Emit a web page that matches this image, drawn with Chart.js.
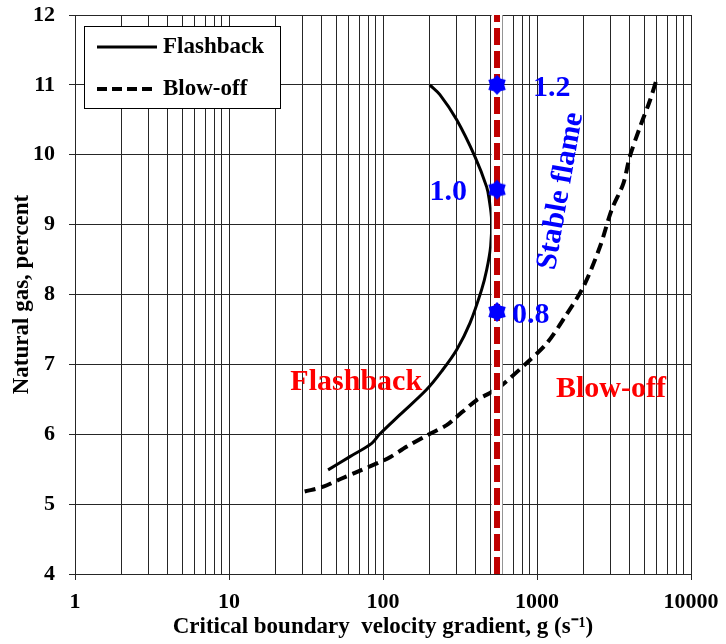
<!DOCTYPE html>
<html>
<head>
<meta charset="utf-8">
<script src="https://cdn.jsdelivr.net/npm/chart.js@4.4.0/dist/chart.umd.min.js"></script>
<style>
  html, body { margin: 0; padding: 0; background: #fff; }
</style>
</head>
<body>
<canvas id="myChart" width="726" height="644"></canvas>
<script>
const serif = "'Liberation Serif', 'Times New Roman', serif";

// flashback limit (solid)
const flashX = [44, 61, 84.5, 95, 129, 192, 240, 301, 367, 437, 471, 500, 507, 490, 471, 396, 301, 234, 201];
const flashY = [5.49, 5.68, 5.87, 6.0, 6.28, 6.64, 6.90, 7.21, 7.59, 8.07, 8.35, 8.69, 9.07, 9.35, 9.54, 9.97, 10.5, 10.86, 11.0];

// blow-off limit (dashed)
const blowX = [31, 41, 53, 71, 93, 111, 142, 195, 259, 294, 406, 495, 575, 857, 1156, 1520, 2000, 2570, 3050, 3640, 4000, 4670, 5420, 6000];
const blowY = [5.18, 5.25, 5.36, 5.48, 5.59, 5.67, 5.82, 5.99, 6.13, 6.23, 6.49, 6.59, 6.68, 7.02, 7.30, 7.68, 8.11, 8.69, 9.21, 9.59, 9.97, 10.40, 10.78, 11.09];

// burner operating gradient and equivalence ratios along it
const stableG = 550;
const stableSpan = [4, 12];
const phiY = [11, 9.5, 7.75];
const phiLabels = ["1.2", "1.0", "0.8"];

const xDecades = [1, 10, 100, 1000, 10000];
const yTicks = [4, 5, 6, 7, 8, 9, 10, 11, 12];

const toPoints = (xs, ys) => xs.map((v, i) => ({ x: v, y: ys[i] }));

function makeStar(r) {
    const c = document.createElement("canvas");
    c.width = c.height = r * 2 + 2;
    const g = c.getContext("2d");
    g.fillStyle = "#0000ff";
    g.beginPath();
    for (let i = 0; i < 12; i++) {
        const rad = i % 2 === 0 ? r : r * 0.72;
        const a = (Math.PI / 6) * i - Math.PI / 2;
        const px = r + 1 + rad * Math.cos(a);
        const py = r + 1 + rad * Math.sin(a);
        if (i === 0) g.moveTo(px, py);
        else g.lineTo(px, py);
    }
    g.closePath();
    g.fill();
    return c;
}

const isDecade = (v) => xDecades.includes(v);

// region names, ratio labels and the legend box
const notes = {
    id: "notes",
    afterDatasetsDraw(chart) {
        const { ctx, scales: { x, y } } = chart;
        ctx.save();
        ctx.textBaseline = "middle";

        ctx.fillStyle = "#0000ff";
        ctx.font = "bold 30px " + serif;
        const offs = [[36, "left"], [-30, "right"], [15, "left"]];
        phiY.forEach((v, i) => {
            ctx.textAlign = offs[i][1];
            ctx.fillText(phiLabels[i], x.getPixelForValue(stableG) + offs[i][0], y.getPixelForValue(v) + 3);
        });

        ctx.save();
        ctx.translate(x.getPixelForValue(1430), y.getPixelForValue(9.48));
        ctx.rotate(-80 * Math.PI / 180);
        ctx.textAlign = "center";
        ctx.fillText("Stable flame", 0, 0);
        ctx.restore();

        ctx.fillStyle = "#ff0000";
        ctx.textAlign = "center";
        ctx.fillText("Flashback", x.getPixelForValue(67), y.getPixelForValue(6.74));
        ctx.fillText("Blow-off", x.getPixelForValue(3020), y.getPixelForValue(6.64));

        // legend
        ctx.fillStyle = "#fff";
        ctx.strokeStyle = "#000";
        ctx.lineWidth = 1;
        ctx.fillRect(84.5, 26.5, 196, 82);
        ctx.strokeRect(84.5, 26.5, 196, 82);
        ctx.lineWidth = 3;
        ctx.beginPath();
        ctx.moveTo(97, 47);
        ctx.lineTo(157, 47);
        ctx.stroke();
        ctx.lineWidth = 4;
        ctx.setLineDash([10, 5]);
        ctx.beginPath();
        ctx.moveTo(97, 89);
        ctx.lineTo(157, 89);
        ctx.stroke();
        ctx.setLineDash([]);
        ctx.fillStyle = "#000";
        ctx.textAlign = "left";
        ctx.font = "bold 23px " + serif;
        ctx.fillText("Flashback", 163, 47);
        ctx.fillText("Blow-off", 163, 89);
        ctx.restore();
    },
};

new Chart(document.getElementById("myChart"), {
    type: "line",
    data: {
        datasets: [
            {
                data: phiY.map((v) => ({ x: stableG, y: v })),
                showLine: false,
                pointStyle: makeStar(10),
                pointRadius: 10,
                order: 0,
            },
            {
                data: stableSpan.map((v) => ({ x: stableG, y: v })),
                borderColor: "#c00000",
                borderWidth: 6,
                borderDash: [17, 6],
                pointRadius: 0,
                order: 1,
            },
            {
                data: stableSpan.map((v) => ({ x: stableG, y: v })),
                borderColor: "#ffffff",
                borderWidth: 11,
                pointRadius: 0,
                order: 2,
            },
            {
                data: toPoints(flashX, flashY),
                borderColor: "#000",
                borderWidth: 3,
                pointRadius: 0,
                tension: 0.35,
                order: 3,
            },
            {
                data: toPoints(blowX, blowY),
                borderColor: "#000",
                borderWidth: 4,
                borderDash: [11, 6],
                pointRadius: 0,
                tension: 0.3,
                order: 4,
            },
        ],
    },
    options: {
        responsive: false,
        animation: false,
        layout: { padding: { top: 15, right: 35, left: 0, bottom: 0 } },
        plugins: { legend: false, tooltip: { enabled: false } },
        scales: {
            x: {
                type: "logarithmic",
                min: 1,
                max: 10000,
                afterBuildTicks: (scale) => {
                    const t = [];
                    for (let d = 1; d < 10000; d *= 10) {
                        for (let m = 1; m < 10; m++) t.push({ value: m * d });
                    }
                    t.push({ value: 10000 });
                    scale.ticks = t;
                },
                afterFit: (scale) => {
                    scale.height = 70;
                    scale.paddingLeft = 0;
                    scale.paddingRight = 0;
                },
                grid: {
                    color: "#262626",
                    lineWidth: 1,
                    tickLength: 6,
                    tickColor: (c) => (c.tick && isDecade(c.tick.value) ? "#262626" : "rgba(0,0,0,0)"),
                },
                border: { color: "#262626" },
                ticks: {
                    autoSkip: false,
                    maxRotation: 0,
                    padding: 9,
                    color: "#000",
                    font: { family: serif, size: 22, weight: "bold" },
                    callback: (v) => (isDecade(v) ? String(v) : ""),
                },
                title: {
                    display: true,
                    text: "Critical boundary  velocity gradient, g (s\u207B\u00B9)",
                    color: "#000",
                    font: { family: serif, size: 23, weight: "bold" },
                    padding: { top: 0, bottom: 3 },
                },
            },
            y: {
                min: 4,
                max: 12,
                afterBuildTicks: (scale) => {
                    scale.ticks = yTicks.map((v) => ({ value: v }));
                },
                afterFit: (scale) => {
                    scale.width = 75;
                    scale.paddingTop = 0;
                    scale.paddingBottom = 0;
                },
                grid: { color: "#262626", lineWidth: 1, tickLength: 6 },
                border: { color: "#262626" },
                ticks: {
                    padding: 14,
                    color: "#000",
                    font: { family: serif, size: 22, weight: "bold" },
                },
                title: {
                    display: true,
                    text: "Natural gas, percent",
                    color: "#000",
                    font: { family: serif, size: 23, weight: "bold" },
                    padding: { top: 8, bottom: 0 },
                },
            },
        },
    },
    plugins: [notes],
});
</script>
</body>
</html>
